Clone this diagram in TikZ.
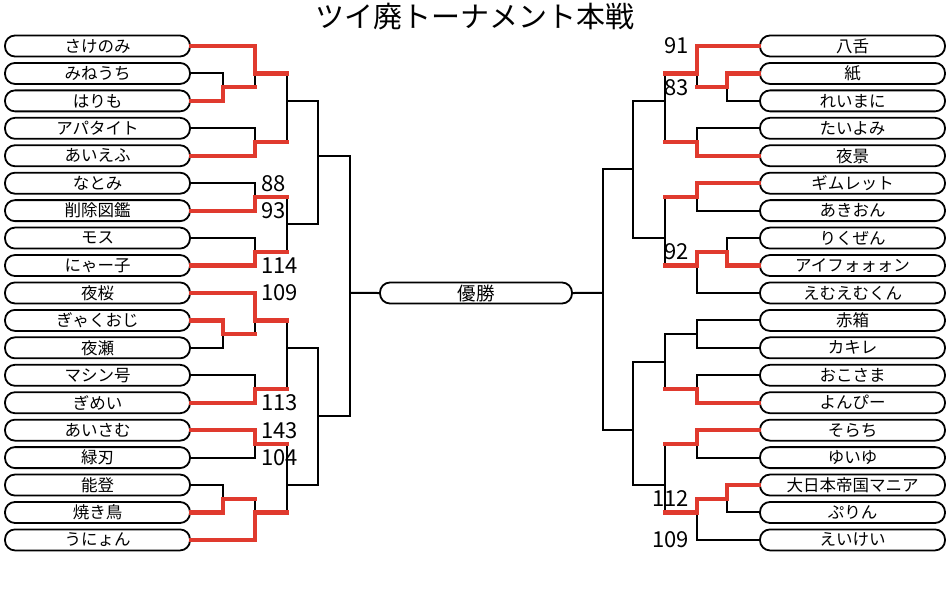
\documentclass[tikz,border=0pt]{standalone}
\usepackage{fontspec}
\setmainfont{Noto Sans CJK JP}
\definecolor{winred}{RGB}{224,58,46}

\begin{document}
\begin{tikzpicture}[x=1pt, y=-1pt, line width=2pt]

  \tikzset{
    box/.style   = {draw, line width=1.8pt, rounded corners=10pt,
                    minimum width=185pt, minimum height=21pt, inner sep=0pt,
                    font=\fontsize{16.5}{16.5}\selectfont},
    score/.style = {font=\fontsize{22}{22}\selectfont, inner sep=0pt},
    ttl/.style   = {font=\fontsize{29}{29}\selectfont, inner sep=0pt},
    wire/.style  = {line width=2pt, draw=black},
    hot/.style   = {line width=4.2pt, draw=winred, line cap=rect},
    cold/.style  = {draw=none},
  }

  \def\yo{46}        % first row
  \def\dy{27.44}     % row pitch

  \useasboundingbox (0,0) rectangle (947,599);

  % ---- title --------------------------------------------------------------
  \node[ttl] (title) at (475,17) {ツイ廃トーナメント本戦};

  % ---- entries --------------------------------------------------------------
  \foreach \i/\t in {0/さけのみ, 1/みねうち, 2/はりも, 3/アパタイト, 4/あいえふ,
                     5/なとみ, 6/削除図鑑, 7/モス, 8/にゃー子, 9/夜桜,
                     10/ぎゃくおじ, 11/夜瀬, 12/マシン号, 13/ぎめい, 14/あいさむ,
                     15/緑刃, 16/能登, 17/焼き鳥, 18/うにょん} {
    \node[box] (l\i) at (97.5,\yo+\i*\dy) {\t};
  }
  \foreach \i/\t in {0/八舌, 1/紙, 2/れいまに, 3/たいよみ, 4/夜景,
                     5/ギムレット, 6/あきおん, 7/りくぜん, 8/アイフォォォン,
                     9/えむえむくん, 10/赤箱, 11/カキレ, 12/おこさま, 13/よんぴー,
                     14/そらち, 15/ゆいゆ, 16/大日本帝国マニア, 17/ぷりん,
                     18/えいけい} {
    \node[box] (r\i) at (852.5,\yo+\i*\dy) {\t};
  }
  \node[box, minimum width=192pt, font=\fontsize{18.5}{18.5}\selectfont]
    (win) at (476,293) {優勝};

  % ---- junctions: x of the upright, y = mean row of the leaves ----------
  \foreach \n/\x/\r in {la1/223/1.5, la2/223/10.5, la3/223/16.5,
                        lb1/255/1, lb2/255/3.5, lb3/255/5.5, lb4/255/7.5,
                        lb5/255/10, lb6/255/12.5, lb7/255/14.5, lb8/255/17,
                        lc1/287/2, lc2/287/6.5, lc3/287/11, lc4/287/16,
                        ld1/318/4, ld2/318/13.5, le/350/9,
                        ra1/727/1.5, ra2/727/7.5, ra3/727/16.5,
                        rb1/697/1, rb2/697/3.5, rb3/697/5.5, rb4/697/8,
                        rb5/697/10.5, rb6/697/12.5, rb7/697/14.5, rb8/697/17,
                        rc1/665/2, rc2/665/7, rc3/665/11.5, rc4/665/16,
                        rd1/633/4.5, rd2/633/14, re/603/9} {
    \coordinate (\n) at (\x,\yo+\r*\dy);
  }

  % child / parent / horizontal / upright
  \def\edges{%
    l0.east/lb1/hot/hot, l1.east/la1/cold/cold, l2.east/la1/hot/hot,
    la1/lb1/hot/cold, l3.east/lb2/cold/cold, l4.east/lb2/hot/hot,
    lb1/lc1/hot/cold, lb2/lc1/hot/cold,
    l5.east/lb3/cold/cold, l6.east/lb3/hot/hot,
    l7.east/lb4/cold/cold, l8.east/lb4/hot/hot,
    lb3/lc2/hot/cold, lb4/lc2/hot/cold,
    lc1/ld1/cold/cold, lc2/ld1/cold/cold,
    l9.east/lb5/hot/hot, l10.east/la2/hot/hot, l11.east/la2/cold/cold,
    la2/lb5/hot/cold, l12.east/lb6/cold/cold, l13.east/lb6/hot/hot,
    lb5/lc3/hot/cold, lb6/lc3/hot/cold,
    l14.east/lb7/hot/hot, l15.east/lb7/cold/cold,
    l16.east/la3/cold/cold, l17.east/la3/hot/hot,
    la3/lb8/hot/cold, l18.east/lb8/hot/hot,
    lb7/lc4/hot/cold, lb8/lc4/hot/cold,
    lc3/ld2/cold/cold, lc4/ld2/cold/cold,
    ld1/le/cold/cold, ld2/le/cold/cold,
    r0.west/rb1/hot/hot, r1.west/ra1/hot/hot, r2.west/ra1/cold/cold,
    ra1/rb1/hot/cold, r3.west/rb2/cold/cold, r4.west/rb2/hot/hot,
    rb1/rc1/hot/cold, rb2/rc1/hot/cold,
    r5.west/rb3/hot/hot, r6.west/rb3/cold/cold,
    r7.west/ra2/cold/cold, r8.west/ra2/hot/hot,
    ra2/rb4/hot/hot, r9.west/rb4/cold/cold,
    rb3/rc2/hot/cold, rb4/rc2/hot/cold,
    rc1/rd1/cold/cold, rc2/rd1/cold/cold,
    r10.west/rb5/cold/cold, r11.west/rb5/cold/cold,
    r12.west/rb6/cold/cold, r13.west/rb6/hot/hot,
    rb5/rc3/cold/cold, rb6/rc3/hot/cold,
    r14.west/rb7/hot/hot, r15.west/rb7/cold/cold,
    r16.west/ra3/hot/hot, r17.west/ra3/cold/cold,
    ra3/rb8/hot/hot, r18.west/rb8/cold/cold,
    rb7/rc4/hot/cold, rb8/rc4/hot/cold,
    rc3/rd2/cold/cold, rc4/rd2/cold/cold,
    rd1/re/cold/cold, rd2/re/cold/cold}

  % ---- bracket: black first, winners' path on top ------------------------
  \foreach \c/\p/\h/\v in \edges {
    \draw[wire] (\c) -| (\p);
  }
  \draw[wire] (le) -- (win.west);
  \draw[wire] (re) -- (win.east);

  \foreach \c/\p/\h/\v in \edges {
    \draw[\h] (\c) -- (\c -| \p);
    \draw[\v] (\c -| \p) -- (\p);
  }

  % ---- scores -------------------------------------------------------------
  \foreach \s/\a in {88/l5, 93/l6, 114/l8, 109/l9, 113/l13, 143/l14, 104/l15} {
    \node[score, anchor=west] (sl\s) at (260,0 |- \a) {\s};
  }
  \foreach \s/\a in {91/r0, 83/ra1, 92/ra2, 112/ra3, 109/r18} {
    \node[score, anchor=east] (sr\s) at (690,0 |- \a) {\s};
  }

\end{tikzpicture}
\end{document}
